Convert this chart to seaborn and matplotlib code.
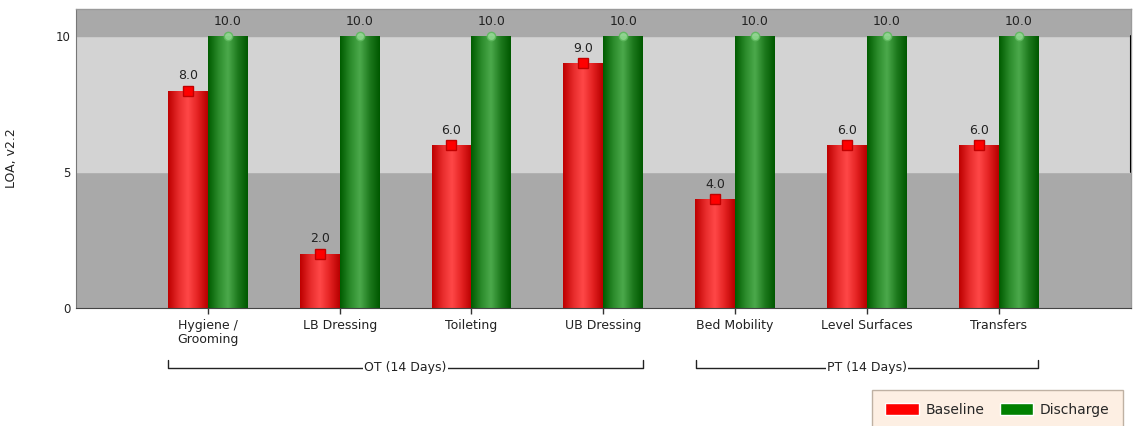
import numpy as np
import pandas as pd
import matplotlib
matplotlib.use("Agg")
import matplotlib.pyplot as plt
import seaborn as sns
from matplotlib.colors import LinearSegmentedColormap
from matplotlib.patches import Patch

# chart data
categories = ["Hygiene /\nGrooming", "LB Dressing", "Toileting", "UB Dressing",
              "Bed Mobility", "Level Surfaces", "Transfers"]
baseline = [8.0, 2.0, 6.0, 9.0, 4.0, 6.0, 6.0]
discharge = [10.0, 10.0, 10.0, 10.0, 10.0, 10.0, 10.0]
series_names = ["Baseline", "Discharge"]
groups = ["OT (14 Days)", "PT (14 Days)"]
group_members = [[0, 1, 2, 3], [4, 5, 6]]
y_ticks = [0, 5, 10]
y_label = "LOA, v2.2"

sns.set_style("white")
plt.rcParams["font.family"] = ["DejaVu Sans"]

df = pd.DataFrame({
    "category": categories * 2,
    "value": baseline + discharge,
    "series": [series_names[0]] * len(baseline) + [series_names[1]] * len(discharge),
})

fig = plt.figure(figsize=(11.34, 4.26), dpi=100)
ax = fig.add_axes([0.067, 0.277, 0.93, 0.702])

# background bands
ax.axhspan(0, 5, color="#A9A9A9", zorder=0)
ax.axhspan(5, 10, color="#D3D3D3", zorder=0)
ax.axhspan(10, 11, color="#A9A9A9", zorder=0)

palette = {"Baseline": "#E52020", "Discharge": "#1A7F1A"}
sns.barplot(data=df, x="category", y="value", hue="series", palette=palette,
            width=0.606, saturation=1, legend=False, ax=ax, zorder=2,
            edgecolor="none")

# gradient fill on each bar, clipped to the bar shape
red_cmap = LinearSegmentedColormap.from_list(
    "r", ["#BE0000", "#E62A2A", "#FF4848", "#E42222", "#B80000"])
green_cmap = LinearSegmentedColormap.from_list(
    "g", ["#005C00", "#2A8A2A", "#4CAA4C", "#1E7A1E", "#005800"])
grad = np.linspace(0, 1, 64).reshape(1, -1)
marker_style = [
    dict(marker="s", markersize=7, markerfacecolor="#FF0000", markeredgecolor="#C00000"),
    dict(marker="o", markersize=6, markerfacecolor="#8FD88F", markeredgecolor="#5FB85F", alpha=0.9),
]
for container, cmap, mstyle in zip(ax.containers, [red_cmap, green_cmap], marker_style):
    for bar in container:
        x0, w, h = bar.get_x(), bar.get_width(), bar.get_height()
        im = ax.imshow(grad, cmap=cmap, aspect="auto", extent=(x0, x0 + w, 0, h),
                       zorder=2.5, interpolation="bicubic")
        im.set_clip_path(bar)
        ax.plot(x0 + w / 2, h, linestyle="none", zorder=4, clip_on=False, **mstyle)
    ax.bar_label(container, fmt="%.1f", padding=6, fontsize=9, color="#222222")

ax.set_xlim(-1, len(categories))
ax.set_ylim(0, 11)
ax.set_yticks(y_ticks)
ax.set_yticklabels([str(t) for t in y_ticks], fontsize=8.5, color="#222222")
ax.set_xlabel("")
ax.set_ylabel(y_label, fontsize=9, color="#222222")
ax.yaxis.set_label_coords(-0.055, 0.5)
ax.tick_params(axis="x", length=4, width=1, color="#333333", labelsize=9,
               labelcolor="#222222", pad=4, bottom=True)
ax.tick_params(axis="y", length=0, pad=4)
for lbl in ax.get_xticklabels():
    lbl.set_verticalalignment("top")
    lbl.set_linespacing(1.1)

for side in ["top", "right"]:
    ax.spines[side].set_color("#9A9A9A")
    ax.spines[side].set_linewidth(1)
ax.spines["left"].set_color("#777777")
ax.spines["bottom"].set_color("#444444")
ax.axvline(len(categories), ymin=5 / 11, ymax=10 / 11, color="black", lw=1.5, zorder=5)

# group brackets under the tick labels
trans = ax.get_xaxis_transform()
for name, members in zip(groups, group_members):
    left, right = members[0] - 0.3, members[-1] + 0.3
    ax.plot([left, left, right, right], [-0.175, -0.2, -0.2, -0.175],
            color="#222222", lw=1, transform=trans, clip_on=False)
    ax.text((left + right) / 2, -0.2, name, transform=trans, ha="center", va="center",
            fontsize=9, color="#222222",
            bbox=dict(facecolor="white", edgecolor="none", pad=1))

handles = [Patch(facecolor="#FF0000", label=series_names[0]),
           Patch(facecolor="#008000", label=series_names[1])]
leg = fig.legend(handles=handles, loc="upper left", bbox_to_anchor=(0.769, 0.085),
                 borderaxespad=0, ncol=2, fontsize=10, frameon=True, fancybox=False,
                 facecolor="#FDEBDC", edgecolor="#B0A090", handlelength=2.4,
                 handleheight=1.0, columnspacing=1.1, borderpad=0.95, handletextpad=0.5)

fig.savefig("out.png", dpi=100)
